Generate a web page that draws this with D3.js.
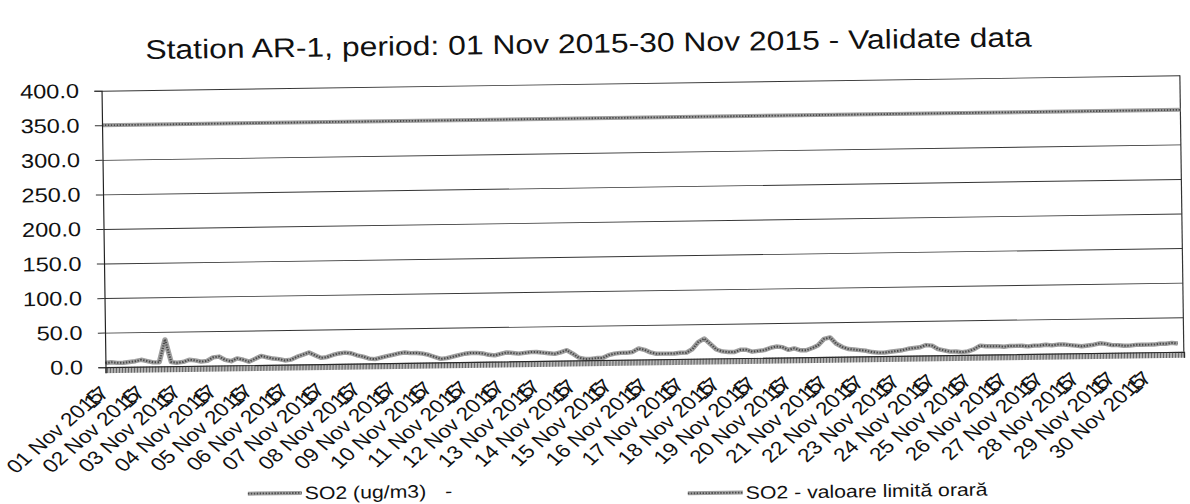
<!DOCTYPE html>
<html>
<head>
<meta charset="utf-8">
<script src="https://cdn.jsdelivr.net/npm/d3@7"></script>
<style>
  body { margin: 0; background: #fff; }
  text { font-family: "Liberation Sans", Arial, sans-serif; fill: #111; }
</style>
</head>
<body>
<svg id="chart" width="1190" height="504"></svg>
<script>
var title = "Station AR-1, period: 01 Nov 2015-30 Nov 2015 - Validate data";

// SO2 readings, one every 4 hours from 01 Nov 00:00
var stepHours = 4;
var so2 = [
    6, 7, 6, 6, 7, 8, 10, 8, 6, 6,
    39, 6, 5, 6, 9, 8, 6, 7, 12, 13,
    8, 6, 10, 8, 5, 9, 13, 11, 9, 8,
    6, 7, 11, 14, 17, 13, 9, 10, 13, 15,
    16, 15, 12, 10, 7, 6, 8, 10, 12, 14,
    15, 14, 14, 13, 11, 8, 5, 6, 8, 10,
    12, 13, 13, 12, 10, 9, 11, 13, 12, 11,
    12, 13, 13, 12, 11, 10, 12, 15, 10, 4,
    2, 2, 3, 3, 7, 9, 10, 10, 11, 16,
    14, 10, 8, 8, 8, 8, 9, 9, 14, 24,
    29, 21, 13, 10, 9, 9, 12, 12, 9, 10,
    11, 14, 16, 15, 11, 13, 10, 10, 13, 17,
    26, 28, 19, 14, 11, 10, 9, 8, 6, 5,
    5, 6, 7, 8, 10, 11, 12, 15, 14, 9,
    7, 5, 5, 4, 5, 8, 13, 12, 12, 12,
    11, 12, 12, 12, 11, 12, 12, 13, 12, 13,
    13, 12, 11, 10, 11, 12, 14, 13, 11, 11,
    10, 10, 11, 11, 11, 11, 12, 12, 13, 12
];
var limitValue = 350;
var totalHours = 720;

var yTicks = [0, 50, 100, 150, 200, 250, 300, 350, 400];
var dayLabels = [
    "01 Nov 2015", "02 Nov 2015", "03 Nov 2015", "04 Nov 2015", "05 Nov 2015",
    "06 Nov 2015", "07 Nov 2015", "08 Nov 2015", "09 Nov 2015", "10 Nov 2015",
    "11 Nov 2015", "12 Nov 2015", "13 Nov 2015", "14 Nov 2015", "15 Nov 2015",
    "16 Nov 2015", "17 Nov 2015", "18 Nov 2015", "19 Nov 2015", "20 Nov 2015",
    "21 Nov 2015", "22 Nov 2015", "23 Nov 2015", "24 Nov 2015", "25 Nov 2015",
    "26 Nov 2015", "27 Nov 2015", "28 Nov 2015", "29 Nov 2015", "30 Nov 2015"
];
var hourLabel = "17";
var legendNames = ["SO2 (ug/m3)", "SO2 - valoare limit\u0103 orar\u0103"];

// the page is a scan: slightly turned and stretched sideways
var svg = d3.select("#chart");
svg.append("rect").attr("width", 1190).attr("height", 504).attr("fill", "#fff");
var g = svg.append("g").attr("transform", "rotate(-0.82 641 229) scale(1.18 1)");

var plotLeft = 87.7, plotRight = 1001.7, plotTop = 83, plotBottom = 359.5;

var x = d3.scaleLinear().domain([0, totalHours]).range([plotLeft, plotRight]);
var y = d3.scaleLinear().domain([0, 400]).range([plotBottom, plotTop]);

g.append("text")
    .attr("x", 501)
    .attr("y", 52)
    .attr("text-anchor", "middle")
    .style("font-size", "27px")
    .text(title);

// grid
g.append("g")
    .attr("transform", "translate(" + plotLeft + ",0)")
    .call(d3.axisLeft(y).tickValues(yTicks.slice(1)).tickSize(-(plotRight - plotLeft)).tickFormat(""))
    .call(function(s) {
        s.select(".domain").remove();
        s.selectAll("line").attr("stroke", "#333").attr("stroke-width", 0.9);
    });

// right border
g.append("line")
    .attr("x1", plotRight).attr("x2", plotRight)
    .attr("y1", plotTop).attr("y2", plotBottom)
    .attr("stroke", "#333").attr("stroke-width", 1);

function hatched(sel, w) {
    sel.append("path").attr("fill", "none").attr("stroke", "#a0a0a0").attr("stroke-width", w);
    sel.append("path").attr("fill", "none").attr("stroke", "#4a4a4a")
        .attr("stroke-width", w * 0.45).attr("stroke-dasharray", "1.2,1.3");
}

var limitG = g.append("g");
hatched(limitG, 4);
limitG.selectAll("path").attr("d", d3.line()
    .x(function(d) { return x(d); })
    .y(function() { return y(limitValue); })([0, totalHours]));

var lineG = g.append("g");
hatched(lineG, 4.4);
lineG.selectAll("path")
    .attr("stroke-linejoin", "round")
    .attr("d", d3.line()
        .x(function(d, i) { return x(i * stepHours); })
        .y(function(d) { return y(d); })(so2));

// y axis
g.append("g")
    .attr("transform", "translate(" + plotLeft + ",0)")
    .call(d3.axisLeft(y).tickValues(yTicks).tickSize(6).tickPadding(13).tickFormat(d3.format(".1f")))
    .call(function(s) {
        s.select(".domain").attr("stroke", "#222");
        s.selectAll("line").attr("stroke", "#333");
        s.selectAll("text").style("font-size", "20px").style("font-family", "Liberation Sans, Arial, sans-serif").attr("fill", "#111");
    });

// x axis: one tick per hour
g.append("g")
    .attr("transform", "translate(0," + plotBottom + ")")
    .call(d3.axisBottom(x).tickValues(d3.range(0, totalHours + 1)).tickSize(6).tickFormat(""))
    .call(function(s) {
        s.select(".domain").attr("stroke", "#222").attr("stroke-width", 1.2);
        s.selectAll(".tick line").attr("stroke", "#333").attr("stroke-width", 0.7);
    });

var labels = g.append("g");
dayLabels.forEach(function(lab, d) {
    var px = x(d * 24) - 1, py = plotBottom + 30;
    labels.append("text")
        .attr("transform", "translate(" + px + "," + py + ") rotate(-45)")
        .attr("text-anchor", "end")
        .style("font-size", "19px")
        .text(lab);
    labels.append("text")
        .attr("transform", "translate(" + (px + 5) + "," + (py - 3) + ") rotate(-45)")
        .attr("text-anchor", "end")
        .style("font-size", "19px")
        .text(hourLabel);
});

// legend
var legendPos = [[206.9, 252.5, 488], [579.7, 626.3, 494]];
legendNames.forEach(function(name, i) {
    var p = legendPos[i];
    var lg = g.append("g");
    hatched(lg, 4);
    lg.selectAll("path").attr("d", "M" + p[0] + "," + p[2] + "H" + p[1]);
    lg.append("text")
        .attr("x", p[1] + 2.5)
        .attr("y", p[2] + 6.5)
        .style("font-size", "18px")
        .text(name);
});
g.append("text").attr("x", 374).attr("y", 488 + 6.5).style("font-size", "18px").text("-");
</script>
</body>
</html>
